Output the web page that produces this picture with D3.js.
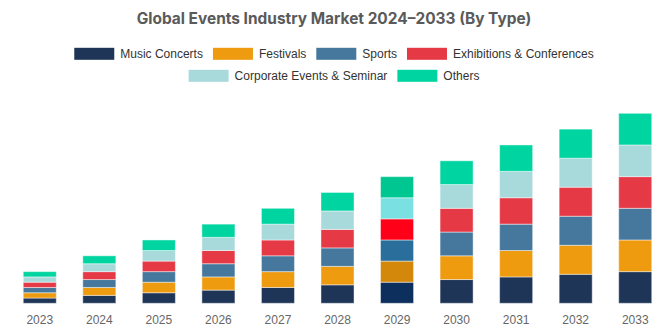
<!DOCTYPE html>
<html lang="en">
<head>
  <meta charset="utf-8">
  <title>Global Events Industry Market 2024–2033 (By Type)</title>
  <script src="https://d3js.org/d3.v7.min.js"></script>
  <style>
    body { margin: 0; background: #fff; }
    svg { display: block; }
  </style>
</head>
<body>
  <div id="chart"></div>
  <script>
    // data (same units for every series)
    const years = ["2023","2024","2025","2026","2027","2028","2029","2030","2031","2032","2033"];
    const seriesNames = ["Music Concerts","Festivals","Sports","Exhibitions & Conferences","Corporate Events & Seminar","Others"];
    const musicConcerts = [2.0, 3.0, 4.0, 5.0, 6.0, 7.0, 8.0, 9.0, 10.0, 11.0, 12.0];
    const festivals     = [2.0, 3.0, 4.0, 5.0, 6.0, 7.0, 8.0, 9.0, 10.0, 11.0, 12.0];
    const sports        = [2.0, 3.0, 4.0, 5.0, 6.0, 7.0, 8.0, 9.0, 10.0, 11.0, 12.0];
    const exhibitions   = [2.0, 3.0, 4.0, 5.0, 6.0, 7.0, 8.0, 9.0, 10.0, 11.0, 12.0];
    const corporate     = [2.0, 3.0, 4.0, 5.0, 6.0, 7.0, 8.0, 9.0, 10.0, 11.0, 12.0];
    const others        = [2.0, 3.0, 4.0, 5.0, 6.0, 7.0, 8.0, 9.0, 10.0, 11.0, 12.0];
    const colors      = ["#1f3557","#ee9b10","#45789c","#e63946","#a8dadc","#00d4a0"];
    const hoverColors = ["#0d2f5e","#d4880b","#2a6f9c","#ff0019","#7ae0e2","#00c791"];
    const highlightYear = "2029"; // bar that is in hover state in the picture

    const W = 668, H = 334;
    const svg = d3.select("#chart").append("svg")
      .attr("width", W)
      .attr("height", H);

    // build rows for the stack
    const allSeries = [musicConcerts, festivals, sports, exhibitions, corporate, others];
    const rows = years.map((y, i) => {
      const r = {year: y};
      seriesNames.forEach((s, j) => { r[s] = allSeries[j][i]; });
      return r;
    });
    const stacked = d3.stack().keys(seriesNames)(rows);

    const x = d3.scaleBand()
      .domain(years)
      .range([10, 665])
      .paddingInner(0.445)
      .paddingOuter(0.2225);

    const y = d3.scaleLinear()
      .domain([0, d3.max(stacked[stacked.length - 1], d => d[1])])
      .range([303.3, 113.3]);

    // title
    const title = svg.append("text")
      .attr("x", W / 2)
      .attr("y", 24)
      .attr("text-anchor", "middle")
      .style("font-family", "Inter, 'Open Sans', sans-serif")
      .style("font-weight", "700")
      .style("font-size", "15px")
      .style("fill", "#5a5a5a")
      .text("Global Events Industry Market 2024–2033 (By Type)");
    // shrink/grow font so it spans the same width as the original
    const tw = title.node().getComputedTextLength();
    title.style("font-size", (15 * 395 / tw).toFixed(2) + "px");

    // legend, two centred rows
    const legendRows = [seriesNames.slice(0, 4), seriesNames.slice(4)];
    legendRows.forEach((names, ri) => {
      const g = svg.append("g");
      let cx = 0;
      names.forEach(name => {
        const j = seriesNames.indexOf(name);
        const item = g.append("g").attr("transform", "translate(" + cx + ",0)");
        item.append("rect")
          .attr("x", 0).attr("y", -6)
          .attr("width", 40).attr("height", 12)
          .attr("fill", colors[j]);
        const t = item.append("text")
          .attr("x", 46).attr("y", 4.5)
          .style("font-family", "'Liberation Sans', Arial, sans-serif")
          .style("font-size", "12px")
          .style("fill", "#333")
          .text(name);
        cx += 46 + t.node().getComputedTextLength() + 10;
      });
      const total = cx - 10;
      g.attr("transform", "translate(" + (W / 2 - total / 2) + "," + (53.8 + ri * 22) + ")");
    });

    // stacked bars
    svg.append("g")
      .selectAll("g")
      .data(stacked)
      .join("g")
      .selectAll("rect")
      .data((d, j) => d.map(p => ({p: p, j: j})))
      .join("rect")
        .attr("x", d => x(d.p.data.year))
        .attr("width", x.bandwidth())
        .attr("y", d => y(d.p[1]))
        .attr("height", d => y(d.p[0]) - y(d.p[1]))
        .attr("fill", d => d.p.data.year === highlightYear ? hoverColors[d.j] : colors[d.j])
        .attr("stroke", "#fff")
        .attr("stroke-opacity", 0.45)
        .attr("stroke-width", 1);

    // x axis labels only
    const xAxis = svg.append("g")
      .attr("transform", "translate(0,303.3)")
      .call(d3.axisBottom(x).tickSize(0).tickPadding(8));
    xAxis.select(".domain").remove();
    xAxis.selectAll("text")
      .attr("dy", "0")
      .attr("y", 20.5)
      .style("font-family", "'Liberation Sans', Arial, sans-serif")
      .style("font-size", "12px")
      .style("fill", "#666");
  </script>
</body>
</html>
